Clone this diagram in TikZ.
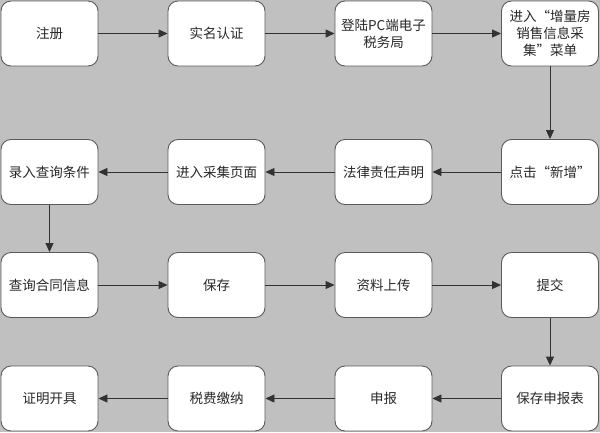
\documentclass[tikz,border=0pt]{standalone}
\usepackage{fontspec}
\newfontfamily\cjk{Noto Sans CJK SC}
\usetikzlibrary{arrows.meta}
\definecolor{bggray}{RGB}{192,192,192}
\definecolor{boxline}{RGB}{90,90,90}
\definecolor{linkgray}{RGB}{50,50,50}
\definecolor{textgray}{RGB}{40,40,40}
\tikzset{
  box/.style={draw=boxline, fill=white, line width=0.9pt, rounded corners=10pt,
    minimum width=97pt, minimum height=65pt, inner sep=1pt, align=center,
    text=textgray, font=\cjk\fontsize{13.5}{17}\selectfont},
  link/.style={draw=linkgray, line width=0.9pt, -{Triangle[length=9pt,width=8pt]}}
}
\begin{document}
\begin{tikzpicture}[x=1pt,y=-1pt]
    % background
    \fill[bggray] (0,0) rectangle (600,432);
    \useasboundingbox (0,0) rectangle (600,432);

    % row 1
    \node[box] (reg)    at (49.5,33.5)  {注册};
    \node[box] (auth)   at (216.5,33.5) {实名认证};
    \node[box] (login)  at (383.5,33.5) {登陆PC端电子\\税务局};
    \node[box] (menu)   at (550,33.5)   {进入“增量房\\销售信息采\\集”菜单};
    % row 2
    \node[box] (add)    at (550,172)    {点击“新增”};
    \node[box] (legal)  at (383.5,172)  {法律责任声明};
    \node[box] (page)   at (216.5,172)  {进入采集页面};
    \node[box] (cond)   at (49.5,172)   {录入查询条件};
    % row 3
    \node[box] (query)  at (49.5,285)   {查询合同信息};
    \node[box] (save)   at (216.5,285)  {保存};
    \node[box] (upload) at (383.5,285)  {资料上传};
    \node[box] (submit) at (550,285)    {提交};
    % row 4
    \node[box] (form)   at (550,398.5)  {保存申报表};
    \node[box] (decl)   at (383.5,398.5){申报};
    \node[box] (pay)    at (216.5,398.5){税费缴纳};
    \node[box] (cert)   at (49.5,398.5) {证明开具};

    % connectors
    \foreach \a/\b in {reg/auth, auth/login, login/menu, menu/add,
                       add/legal, legal/page, page/cond, cond/query,
                       query/save, save/upload, upload/submit, submit/form,
                       form/decl, decl/pay, pay/cert}
        \draw[link] (\a) -- (\b);
\end{tikzpicture}
\end{document}
